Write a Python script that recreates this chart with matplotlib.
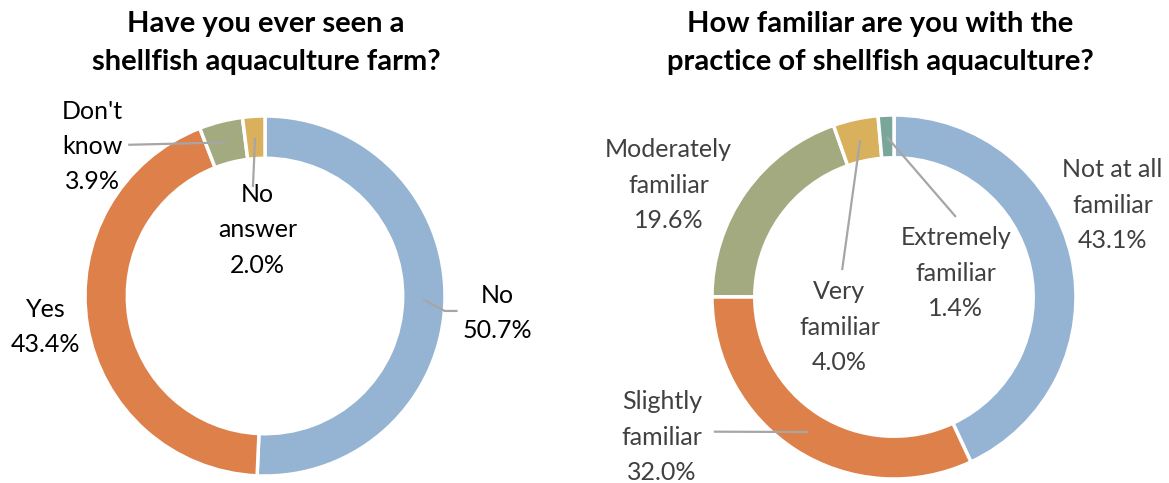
import matplotlib

matplotlib.use("Agg")
import matplotlib.pyplot as plt
import numpy as np

plt.rcParams["font.family"] = ["Lato", "DejaVu Sans"]

# Survey responses (percent)
seen_labels = ["No", "Yes", "Don't\nknow", "No\nanswer"]
seen_values = [50.7, 43.4, 3.9, 2.0]
seen_colors = ["#95B4D4", "#DE8049", "#A3AA7F", "#D9B05C"]

fam_labels = ["Not at all\nfamiliar", "Slightly\nfamiliar", "Moderately\nfamiliar",
              "Very\nfamiliar", "Extremely\nfamiliar"]
fam_values = [43.1, 32.0, 19.6, 4.0, 1.4]
fam_colors = ["#95B4D4", "#DE8049", "#A3AA7F", "#D9B05C", "#7AA69A"]

W, H = 1169, 483
LEADER = "#A6A6A6"


def px_axes(fig, cx, cy, r):
    # square axes centred on pixel (cx, cy) with half-size r
    return fig.add_axes([(cx - r) / W, 1 - (cy + r) / H, 2 * r / W, 2 * r / H])


def mid_point(values, i, rad=0.88):
    total = sum(values)
    start = sum(values[:i]) / total
    theta = 2 * np.pi * (start + values[i] / total / 2)
    return rad * np.sin(theta), rad * np.cos(theta)


def donut(ax, values, colors):
    ax.pie(values, colors=colors, startangle=90, counterclock=False, radius=1.0,
           wedgeprops=dict(width=0.235, edgecolor="white", linewidth=2.5))
    ax.set_xlim(-1, 1)
    ax.set_ylim(-1, 1)
    ax.set_aspect("equal")
    ax.axis("off")


def label(ax, text, pct, pos, color, size=18):
    ax.text(pos[0], pos[1], f"{text}\n{pct:.1f}%", ha="center", va="center",
            fontsize=size, color=color, linespacing=1.65, clip_on=False)


def leader(ax, values, i, pts):
    x0, y0 = mid_point(values, i)
    xs = [x0] + [p[0] for p in pts]
    ys = [y0] + [p[1] for p in pts]
    ax.plot(xs, ys, color=LEADER, lw=1.6, clip_on=False, solid_capstyle="butt")


fig = plt.figure(figsize=(W / 100, H / 100), dpi=100)

# left: have you seen a farm
ax1 = px_axes(fig, 265, 296, 180)
donut(ax1, seen_values, seen_colors)
label(ax1, seen_labels[0], seen_values[0], (1.29, -0.094), "black")
label(ax1, seen_labels[1], seen_values[1], (-1.217, -0.172), "black")
label(ax1, seen_labels[2], seen_values[2], (-0.96, 0.83), "black")
label(ax1, seen_labels[3], seen_values[3], (-0.04, 0.367), "black")
leader(ax1, seen_values, 0, [(0.998, -0.083), (1.07, -0.083)])
leader(ax1, seen_values, 2, [(-0.76, 0.84)])
leader(ax1, seen_values, 3, [(-0.067, 0.605)])
fig.text(266 / W, 1 - 43 / H, "Have you ever seen a\nshellfish aquaculture farm?",
         ha="center", va="center", fontsize=21, fontweight="bold", linespacing=1.6)

# right: familiarity with shellfish aquaculture
ax2 = px_axes(fig, 894, 297, 182)
donut(ax2, fam_values, fam_colors)
gray = "#404040"
label(ax2, fam_labels[0], fam_values[0], (1.2, 0.505), gray)
label(ax2, fam_labels[1], fam_values[1], (-1.275, -0.77), gray)
label(ax2, fam_labels[2], fam_values[2], (-1.24, 0.615), gray)
label(ax2, fam_labels[3], fam_values[3], (-0.3, -0.165), gray)
label(ax2, fam_labels[4], fam_values[4], (0.34, 0.13), gray)
leader(ax2, fam_values, 1, [(-0.99, -0.74)])
leader(ax2, fam_values, 3, [(-0.285, 0.148)])
leader(ax2, fam_values, 4, [(0.34, 0.44)])
fig.text(880 / W, 1 - 43 / H, "How familiar are you with the\npractice of shellfish aquaculture?",
         ha="center", va="center", fontsize=21, fontweight="bold", linespacing=1.6)

fig.savefig("out.png", dpi=100)
